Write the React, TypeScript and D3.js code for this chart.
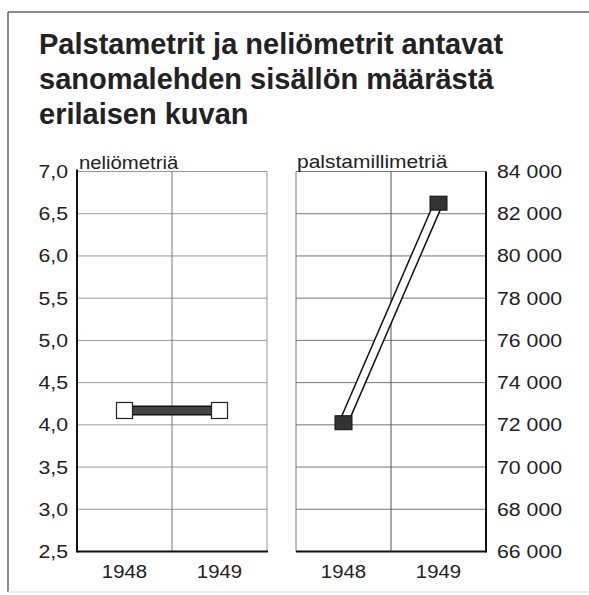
import React from "react";
import * as d3 from "d3";

const titleLines = [
  "Palstametrit ja neliömetrit antavat",
  "sanomalehden sisällön määrästä",
  "erilaisen kuvan",
];
const years = ["1948", "1949"];
const squareMeters = [4.17, 4.17];
const columnMm = [72100, 82500];
const leftTicks = [2.5, 3.0, 3.5, 4.0, 4.5, 5.0, 5.5, 6.0, 6.5, 7.0];
const rightTicks = [66000, 68000, 70000, 72000, 74000, 76000, 78000, 80000, 82000, 84000];
const leftLabel = "neliömetriä";
const rightLabel = "palstamillimetriä";

const FONT = "'Liberation Sans', Arial, Helvetica, sans-serif";

function SText({ x, y, sx = 1.15, size = 18.5, anchor = "start", children }: any) {
  return (
    <text
      transform={`translate(${x},${y}) scale(${sx},1)`}
      fontSize={size}
      textAnchor={anchor}
      fill="#222"
    >
      {children}
    </text>
  );
}

export default function App() {
  const top = 171.5;
  const bottom = 551.5;
  const L = { x0: 77, x1: 267 };
  const R = { x0: 296, x1: 486 };

  const yL = d3.scaleLinear().domain([2.5, 7.0]).range([bottom, top]);
  const yR = d3.scaleLinear().domain([66000, 84000]).range([bottom, top]);
  const xL = d3.scalePoint<string>().domain(years).range([L.x0, L.x1]).padding(0.5);
  const xR = d3.scalePoint<string>().domain(years).range([R.x0, R.x1]).padding(0.5);

  const fmtL = (v: number) => d3.format(".1f")(v).replace(".", ",");
  const fmtR = (v: number) => d3.format(",")(v).replace(/,/g, " ");

  const lineL = d3.line<number>().x((_, i) => xL(years[i])!).y((d) => yL(d));
  const lineR = d3.line<number>().x((_, i) => xR(years[i])!).y((d) => yR(d));

  const sq = 16;

  return (
    <svg
      width={589}
      height={595}
      style={{ position: "absolute", left: 0, top: 0, background: "#fff" }}
      fontFamily={FONT}
    >
      <rect x={0} y={0} width={589} height={595} fill="#fff" />
      {/* outer frame */}
      <line x1={8} y1={12} x2={589} y2={12} stroke="#666" strokeWidth={1.5} />
      <line x1={8} y1={12} x2={8} y2={592} stroke="#666" strokeWidth={1.5} />
      <line x1={8} y1={592} x2={589} y2={592} stroke="#ddd" strokeWidth={1} />

      {/* title */}
      {titleLines.map((t, i) => (
        <text key={i} x={39} y={54 + i * 35} fontSize={29} fontWeight="bold" fill="#222">
          {t}
        </text>
      ))}

      {/* left panel grid */}
      {leftTicks.map((v) => (
        <line key={v} x1={L.x0} x2={L.x1} y1={yL(v)} y2={yL(v)} stroke="#999" strokeWidth={1} />
      ))}
      <line x1={(L.x0 + L.x1) / 2} x2={(L.x0 + L.x1) / 2} y1={top} y2={bottom} stroke="#777" strokeWidth={1} />
      <line x1={L.x1} x2={L.x1} y1={top} y2={bottom} stroke="#999" strokeWidth={1} />
      <line x1={L.x0} x2={L.x0} y1={top - 2} y2={bottom + 1} stroke="#111" strokeWidth={2} />
      <line x1={L.x0} x2={L.x1 + 1} y1={bottom} y2={bottom} stroke="#111" strokeWidth={2} />
      {leftTicks.map((v) => (
        <SText key={v} x={68} y={yL(v) + 6.5} anchor="end">
          {fmtL(v)}
        </SText>
      ))}
      <SText x={79} y={168.5} size={17.5} sx={1.16}>{leftLabel}</SText>
      {years.map((y) => (
        <SText key={y} x={xL(y)} y={578} anchor="middle" sx={1.1}>{y}</SText>
      ))}
      {/* left series */}
      <path d={lineL(squareMeters) || ""} stroke="#111" strokeWidth={10} fill="none" />
      <path d={lineL(squareMeters) || ""} stroke="#444" strokeWidth={7} fill="none" />
      {squareMeters.map((v, i) => (
        <rect key={i} x={xL(years[i])! - sq / 2} y={yL(v) - sq / 2} width={sq} height={sq} fill="#fff" stroke="#222" strokeWidth={1.2} />
      ))}

      {/* right panel grid */}
      {rightTicks.map((v) => (
        <line key={v} x1={R.x0} x2={R.x1} y1={yR(v)} y2={yR(v)} stroke="#777" strokeWidth={1} />
      ))}
      <line x1={(R.x0 + R.x1) / 2} x2={(R.x0 + R.x1) / 2} y1={top} y2={bottom} stroke="#555" strokeWidth={1} />
      <line x1={R.x0} x2={R.x0} y1={top} y2={bottom} stroke="#777" strokeWidth={1} />
      <line x1={R.x1} x2={R.x1} y1={top} y2={bottom + 1} stroke="#111" strokeWidth={2} />
      <line x1={R.x0} x2={R.x1} y1={bottom} y2={bottom} stroke="#111" strokeWidth={2} />
      {rightTicks.map((v) => (
        <SText key={v} x={497} y={yR(v) + 6.5}>
          {fmtR(v)}
        </SText>
      ))}
      <SText x={297} y={167.5} size={17.5} sx={1.2}>{rightLabel}</SText>
      {years.map((y) => (
        <SText key={y} x={xR(y)} y={578} anchor="middle" sx={1.1}>{y}</SText>
      ))}
      {/* right series */}
      <path d={lineR(columnMm) || ""} stroke="#111" strokeWidth={10} fill="none" />
      <path d={lineR(columnMm) || ""} stroke="#fff" strokeWidth={7} fill="none" />
      {columnMm.map((v, i) => (
        <rect key={i} x={xR(years[i])! - 8.5} y={yR(v) - 7} width={17} height={14} fill="#333" stroke="#111" strokeWidth={1} />
      ))}
    </svg>
  );
}
